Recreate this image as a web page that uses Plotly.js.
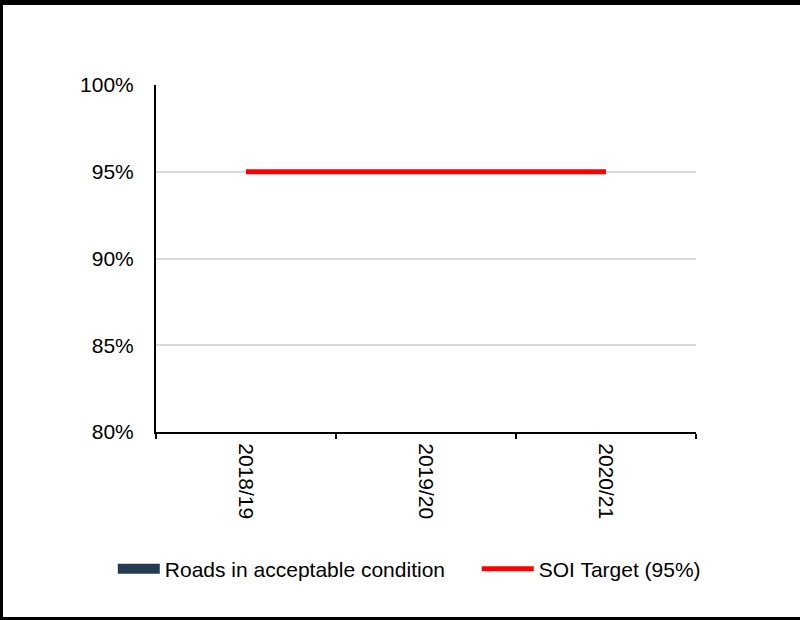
<!DOCTYPE html>
<html>
<head>
<meta charset="utf-8">
<script src="https://cdn.plot.ly/plotly-3.0.1.min.js"></script>
<style>
  html, body { margin: 0; padding: 0; background: #ffffff; }
  #frame { position: absolute; left: 0; top: 0; width: 797px; height: 612px;
           border-top: 5px solid #000; border-left: 3px solid #000; border-bottom: 3px solid #000; }
  #chart { width: 797px; height: 612px; }
</style>
</head>
<body>
<div id="frame"><div id="chart"></div></div>
<script>
const categories = ["2018/19", "2019/20", "2020/21"];
const roadsAcceptable = [null, null, null];
const soiTarget = [95, 95, 95];

const roadsColor = "#243a52";

const traces = [
  {
    type: "bar",
    name: "Roads in acceptable condition",
    x: categories,
    y: roadsAcceptable,
    marker: { color: roadsColor },
    legendgroup: "roads",
    showlegend: false
  },
  {
    // legend entry for the bar series (wide block symbol)
    type: "scatter",
    mode: "lines",
    name: "Roads in acceptable condition",
    x: categories,
    y: roadsAcceptable,
    line: { color: roadsColor, width: 11 },
    legendgroup: "roads",
    legend: "legend",
    showlegend: true,
    hoverinfo: "skip"
  },
  {
    type: "scatter",
    mode: "lines",
    name: "SOI Target (95%)",
    x: categories,
    y: soiTarget,
    line: { color: "#ff0000", width: 5 },
    legend: "legend2"
  }
];

const legendCommon = {
  orientation: "h",
  y: -0.395, yanchor: "middle",
  font: { size: 21, color: "#000000" },
  bgcolor: "rgba(0,0,0,0)"
};

const layout = {
  width: 797,
  height: 612,
  margin: { l: 153, r: 104, t: 80, b: 185 },
  paper_bgcolor: "#ffffff",
  plot_bgcolor: "#ffffff",
  font: { family: "Liberation Sans, Arial, sans-serif", size: 21, color: "#000000" },
  showlegend: true,
  legend: Object.assign({}, legendCommon, { x: -0.08, xanchor: "left", itemwidth: 42 }),
  legend2: Object.assign({}, legendCommon, { x: 0.594, xanchor: "left", itemwidth: 52 }),
  xaxis: {
    type: "category",
    showline: true, linecolor: "#000000", linewidth: 2,
    ticks: "outside", tickson: "boundaries", ticklen: 5, tickcolor: "#000000", tickwidth: 1.5,
    tickangle: 90,
    ticklabelstandoff: 5,
    tickfont: { size: 21 },
    showgrid: false,
    zeroline: false
  },
  yaxis: {
    range: [80, 100],
    dtick: 5,
    tick0: 80,
    ticksuffix: "%",
    showline: true, linecolor: "#000000", linewidth: 2,
    ticks: "",
    ticklabelstandoff: 16,
    tickfont: { size: 21 },
    showgrid: true, gridcolor: "#d9d9d9", gridwidth: 2,
    zeroline: false
  }
};

Plotly.newPlot("chart", traces, layout, { displayModeBar: false, staticPlot: true });
</script>
</body>
</html>
